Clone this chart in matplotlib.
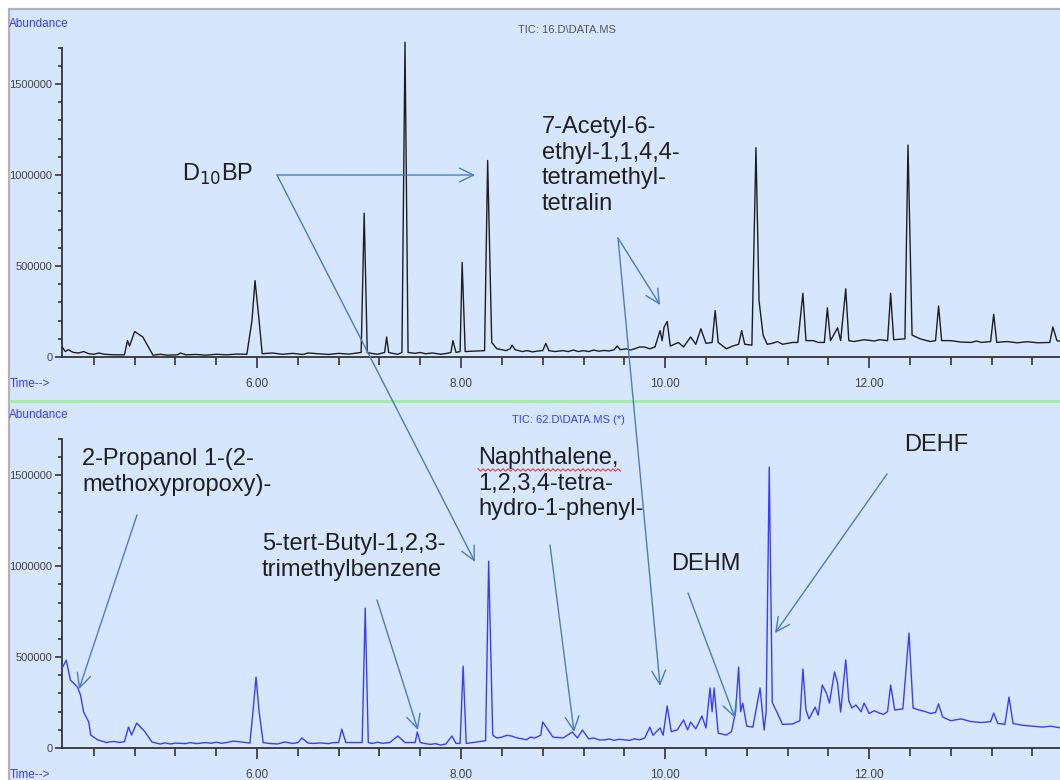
import numpy as np
import matplotlib
matplotlib.use("Agg")
import matplotlib.pyplot as plt
from matplotlib.patches import Rectangle
from matplotlib.ticker import FixedLocator, MultipleLocator

# ---------------- data ----------------
top_time = [4.09, 4.12, 4.20, 4.35, 4.50, 4.70, 4.73, 4.75, 4.80, 4.88, 4.95, 4.98,
            5.22, 5.25, 5.30, 5.90, 5.95, 5.98, 6.02, 6.05, 6.50, 7.02, 7.05, 7.08,
            7.25, 7.27, 7.29, 7.42, 7.45, 7.48, 7.90, 7.92, 7.95, 7.99, 8.01, 8.04,
            8.23, 8.26, 8.30, 8.35, 8.48, 8.50, 8.53, 8.80, 8.83, 8.86, 9.50, 9.53,
            9.56, 9.70, 9.80, 9.90, 9.95, 9.97, 9.99, 10.02, 10.05, 10.13, 10.18,
            10.25, 10.30, 10.35, 10.40, 10.46, 10.49, 10.52, 10.60, 10.66, 10.72,
            10.75, 10.78, 10.85, 10.89, 10.92, 10.96, 11.00, 11.05, 11.15, 11.30,
            11.35, 11.38, 11.50, 11.56, 11.59, 11.62, 11.69, 11.72, 11.77, 11.80,
            11.90, 12.18, 12.21, 12.24, 12.35, 12.38, 12.42, 12.50, 12.65, 12.68,
            12.71, 13.00, 13.19, 13.22, 13.25, 13.77, 13.80, 13.84, 13.88]
top_abund = [55000, 30000, 25000, 18000, 15000, 12000, 90000, 60000, 140000, 110000, 40000, 10000,
             12000, 22000, 12000, 15000, 200000, 420000, 200000, 18000, 22000, 25000, 790000, 25000,
             25000, 110000, 25000, 25000, 1730000, 25000, 25000, 90000, 25000, 30000, 520000, 30000,
             35000, 1080000, 80000, 45000, 45000, 65000, 40000, 35000, 75000, 35000, 40000, 60000,
             40000, 45000, 55000, 55000, 145000, 90000, 165000, 195000, 60000, 80000, 55000,
             110000, 70000, 155000, 75000, 80000, 255000, 80000, 45000, 60000, 70000,
             145000, 70000, 65000, 1150000, 310000, 120000, 70000, 75000, 70000, 80000,
             350000, 90000, 80000, 80000, 270000, 90000, 160000, 90000, 375000, 90000,
             90000, 90000, 350000, 95000, 100000, 1165000, 120000, 100000, 90000, 280000,
             90000, 80000, 85000, 235000, 80000, 80000, 165000, 90000, 85000]
# small baseline wiggles of the upper trace
top_noise_time = [4.15, 4.25, 4.30, 4.40, 4.45, 4.60, 5.05, 5.12, 5.40, 5.50, 5.60, 5.70, 5.80,
                  6.15, 6.25, 6.35, 6.45, 6.60, 6.70, 6.80, 6.90, 7.12, 7.18, 7.33, 7.38,
                  7.55, 7.60, 7.65, 7.72, 7.80, 7.86, 8.40, 8.44, 8.60, 8.65, 8.70, 8.75,
                  8.92, 9.00, 9.05, 9.10, 9.15, 9.20, 9.25, 9.30, 9.35, 9.40, 9.45,
                  9.62, 9.66, 9.75, 9.85, 11.10, 11.20, 11.25, 11.45, 11.85, 11.95, 12.05,
                  12.10, 12.55, 12.60, 12.80, 12.90, 13.05, 13.10, 13.35, 13.45, 13.55, 13.65]
top_noise_abund = [40000, 22000, 30000, 15000, 22000, 12000, 15000, 10000, 14000, 10000, 15000, 12000, 16000,
                   22000, 15000, 20000, 14000, 18000, 14000, 20000, 16000, 20000, 15000, 20000, 15000,
                   20000, 25000, 18000, 22000, 15000, 20000, 40000, 35000, 30000, 35000, 28000, 33000,
                   30000, 35000, 30000, 38000, 30000, 35000, 30000, 38000, 32000, 36000, 33000,
                   45000, 38000, 55000, 45000, 85000, 75000, 80000, 90000, 85000, 95000, 88000,
                   95000, 92000, 85000, 90000, 82000, 88000, 80000, 85000, 78000, 84000, 78000]

bot_time = [4.09, 4.13, 4.17, 4.24, 4.27, 4.30, 4.35, 4.37, 4.44, 4.55, 4.70, 4.74,
            4.77, 4.82, 4.90, 4.97, 5.20, 5.50, 5.77, 5.93, 5.96, 5.99, 6.02, 6.06,
            6.27, 6.44, 6.50, 6.80, 6.83, 6.87, 7.03, 7.06, 7.09, 7.30, 7.38, 7.45,
            7.55, 7.57, 7.60, 7.80, 7.91, 7.95, 7.99, 8.02, 8.05, 8.24, 8.27, 8.31,
            8.40, 8.50, 8.60, 8.68, 8.78, 8.80, 8.84, 8.90, 9.00, 9.09, 9.14, 9.19,
            9.25, 9.40, 9.60, 9.80, 9.85, 9.88, 9.95, 9.98, 10.02, 10.06, 10.12,
            10.18, 10.22, 10.25, 10.30, 10.36, 10.40, 10.44, 10.46, 10.48, 10.52,
            10.60, 10.65, 10.69, 10.72, 10.74, 10.76, 10.80, 10.86, 10.93, 10.97,
            10.99, 11.02, 11.05, 11.10, 11.15, 11.25, 11.32, 11.35, 11.38, 11.41,
            11.47, 11.50, 11.54, 11.58, 11.61, 11.66, 11.69, 11.72, 11.77, 11.80,
            11.83, 11.87, 11.92, 11.95, 12.00, 12.10, 12.18, 12.21, 12.25, 12.33,
            12.39, 12.43, 12.55, 12.65, 12.68, 12.72, 12.90, 13.10, 13.19, 13.22,
            13.26, 13.33, 13.37, 13.41, 13.60, 13.88]
bot_abund = [440000, 483000, 374000, 335000, 290000, 198000, 143000, 71000, 44000, 33000, 35000, 115000,
             71000, 137000, 90000, 33000, 27000, 30000, 38000, 27000, 200000, 390000, 200000, 30000,
             33000, 55000, 27000, 30000, 104000, 30000, 30000, 769000, 30000, 30000, 66000, 30000,
             30000, 88000, 30000, 16000, 66000, 25000, 25000, 450000, 25000, 40000, 1027000, 71000,
             60000, 65000, 50000, 60000, 70000, 143000, 110000, 60000, 55000, 88000, 55000, 99000,
             50000, 44000, 45000, 55000, 115000, 70000, 110000, 70000, 231000, 90000, 100000,
             154000, 100000, 143000, 105000, 176000, 110000, 330000, 200000, 330000, 82000,
             71000, 90000, 198000, 445000, 200000, 247000, 120000, 115000, 330000, 99000,
             200000, 1544000, 250000, 192000, 130000, 132000, 150000, 434000, 209000, 160000,
             225000, 180000, 346000, 302000, 247000, 418000, 357000, 198000, 484000, 260000,
             220000, 236000, 200000, 247000, 190000, 192000, 200000, 346000, 209000, 215000,
             632000, 220000, 200000, 195000, 242000, 170000, 160000, 140000, 145000, 192000,
             135000, 130000, 280000, 135000, 120000, 110000]
# small baseline wiggles of the lower trace
bot_noise_time = [4.48, 4.52, 4.60, 4.65, 5.05, 5.10, 5.15, 5.30, 5.35, 5.40, 5.55, 5.60, 5.65,
                  5.70, 6.12, 6.20, 6.35, 6.40, 6.55, 6.62, 6.70, 6.75, 7.13, 7.18, 7.23,
                  7.65, 7.70, 7.75, 7.85, 8.35, 8.45, 8.55, 8.64, 8.72, 9.30, 9.35, 9.45,
                  9.50, 9.55, 9.65, 9.70, 9.75, 12.05, 12.14, 12.48, 12.60, 12.80, 13.00,
                  13.50, 13.70, 13.78]
bot_noise_abund = [38000, 30000, 36000, 30000, 22000, 28000, 22000, 24000, 30000, 24000, 26000, 32000, 26000,
                   30000, 25000, 22000, 25000, 30000, 25000, 28000, 24000, 30000, 25000, 32000, 26000,
                   24000, 20000, 24000, 22000, 55000, 70000, 55000, 45000, 55000, 55000, 45000, 50000,
                   42000, 48000, 42000, 50000, 45000, 205000, 185000, 210000, 190000, 150000, 145000,
                   125000, 115000, 120000]

x_major = [6.0, 8.0, 10.0, 12.0]
x_major_labels = ["6.00", "8.00", "10.00", "12.00"]
y_major = [0, 500000, 1000000, 1500000]
y_major_labels = ["0", "500000", "1000000", "1500000"]

top_title = "TIC: 16.D\\DATA.MS"
bot_title = "TIC: 62.D\\DATA.MS (*)"

# annotations: (text, text position px, arrow tail px, [(panel, time, abundance), ...])
annotations = [
    ("D$_{10}$BP", (182, 175), (277, 175), [("top", 8.136, 1000000), ("bot", 8.136, 1023000)]),
    ("7-Acetyl-6-\nethyl-1,1,4,4-\ntetramethyl-\ntetralin", (542, 129), (618, 238),
     [("top", 9.95, 286000), ("bot", 9.95, 341000)]),
    ("2-Propanol 1-(2-\nmethoxypropoxy)-", (82, 461), (137, 515), [("bot", 4.255, 324000)]),
    ("5-tert-Butyl-1,2,3-\ntrimethylbenzene", (262, 546), (377, 600), [("bot", 7.577, 99000)]),
    ("Naphthalene,\n1,2,3,4-tetra-\nhydro-1-phenyl-", (478, 460), (550, 545), [("bot", 9.107, 88000)]),
    ("DEHM", (671, 566), (688, 593), [("bot", 10.685, 165000)]),
    ("DEHF", (904, 447), (887, 474), [("bot", 11.077, 632000)]),
]


def merged(t1, v1, t2, v2):
    t = np.array(list(t1) + list(t2), dtype=float)
    v = np.array(list(v1) + list(v2), dtype=float)
    order = np.argsort(t, kind="stable")
    return t[order], v[order]


# ---------------- figure ----------------
W, H = 1060, 780
fig = plt.figure(figsize=(W / 100, H / 100), dpi=100, facecolor="white")

BG = "#d6e6fc"
AXC = "#333333"
BLUE = "#3c3cff"
SMALL = ["Liberation Sans", "DejaVu Sans"]
ARIAL = ["Liberation Sans", "DejaVu Sans"]

# background layer (pixel coordinates)
bg = fig.add_axes([0, 0, 1, 1], zorder=-5)
bg.set_xlim(0, W)
bg.set_ylim(H, 0)
bg.axis("off")
bg.add_patch(Rectangle((9, 9), W - 9, H - 9, facecolor=BG, edgecolor="none"))
bg.plot([8, W], [8.5, 8.5], color="#aeb4bc", lw=1.6, solid_capstyle="butt")
bg.plot([8.5, 8.5], [8, H], color="#aeb4bc", lw=1.6, solid_capstyle="butt")
bg.plot([9, W], [400.5, 400.5], color="#a4eca4", lw=2.2, solid_capstyle="butt")


def px_box(left, top, bottom):
    return [left / W, (H - bottom) / H, (W - left) / W, (bottom - top) / H]


XLIM = (4.088, 13.87)


def setup(ax, ymax, color, times, vals):
    ax.set_facecolor("none")
    ax.plot(times, vals, color=color, lw=1.0, clip_on=False, zorder=3)
    ax.set_xlim(*XLIM)
    ax.set_ylim(0, ymax)
    for s in ("top", "right"):
        ax.spines[s].set_visible(False)
    for s in ("left", "bottom"):
        ax.spines[s].set_color(AXC)
        ax.spines[s].set_linewidth(1.3)
    ax.spines["left"].set_bounds(0, 1700000)
    ax.xaxis.set_major_locator(FixedLocator(x_major))
    ax.set_xticklabels(x_major_labels)
    ax.xaxis.set_minor_locator(FixedLocator(list(np.arange(4.4, 13.9, 0.4))))
    ax.yaxis.set_major_locator(FixedLocator(y_major))
    ax.set_yticklabels(y_major_labels)
    ax.yaxis.set_minor_locator(MultipleLocator(100000))
    ax.tick_params(axis="x", which="major", length=8, width=1.2, color=AXC, pad=7,
                   labelsize=8.5, labelcolor="#444444")
    ax.tick_params(axis="x", which="minor", length=6, width=1.2, color=AXC)
    ax.tick_params(axis="y", which="major", length=5, width=1.2, color=AXC, pad=2,
                   labelsize=8, labelcolor="#444444")
    ax.tick_params(axis="y", which="minor", length=3, width=1.2, color=AXC)
    for lab in ax.get_xticklabels() + ax.get_yticklabels():
        lab.set_fontfamily(SMALL)


t_top, v_top = merged(top_time, top_abund, top_noise_time, top_noise_abund)
t_bot, v_bot = merged(bot_time, bot_abund, bot_noise_time, bot_noise_abund)

ax_top = fig.add_axes(px_box(62, 44, 357))
setup(ax_top, 1720000, "#1e1e1e", t_top, v_top)
ax_bot = fig.add_axes(px_box(62, 437, 748))
setup(ax_bot, 1710000, BLUE, t_bot, v_bot)

# overlay layer for texts and arrows
ov = fig.add_axes([0, 0, 1, 1], zorder=10)
ov.set_xlim(0, W)
ov.set_ylim(H, 0)
ov.axis("off")

ov.text(9, 24, "Abundance", color=BLUE, fontsize=8.5, family=SMALL, va="center", ha="left")
ov.text(9, 415, "Abundance", color=BLUE, fontsize=8.5, family=SMALL, va="center", ha="left")
ov.text(10, 384, "Time-->", color=BLUE, fontsize=8.5, family=SMALL, va="center", ha="left")
ov.text(10, 775, "Time-->", color=BLUE, fontsize=8.5, family=SMALL, va="center", ha="left")
ov.text(567, 30, top_title, color="#555555", fontsize=8, family=SMALL, va="center", ha="center")
ov.text(568, 420, bot_title, color=BLUE, fontsize=8, family=SMALL, va="center", ha="center")

ARROW = "#4a7ebb"
panels = {"top": ax_top, "bot": ax_bot}
for text, (tx, ty), tail, targets in annotations:
    ov.text(tx, ty - 13, text, fontsize=17, family=ARIAL, color="#1f1f1f",
            ha="left", va="top", linespacing=1.22)
    for panel, t, v in targets:
        ov.annotate("", xy=(t, v), xycoords=panels[panel].transData,
                    xytext=tail, textcoords=ov.transData,
                    arrowprops=dict(arrowstyle="->,head_length=1.0,head_width=0.5",
                                    color=ARROW, lw=1.0, shrinkA=0, shrinkB=0,
                                    mutation_scale=10))

# spell-check wavy underline under "Naphthalene,"
wx = np.arange(478, 622, 2.5)
wy = 470 + np.where(np.arange(len(wx)) % 2 == 0, -1.2, 1.2)
ov.plot(wx, wy, color="#e04040", lw=0.8)

fig.savefig("out.png", dpi=100, facecolor="white")
